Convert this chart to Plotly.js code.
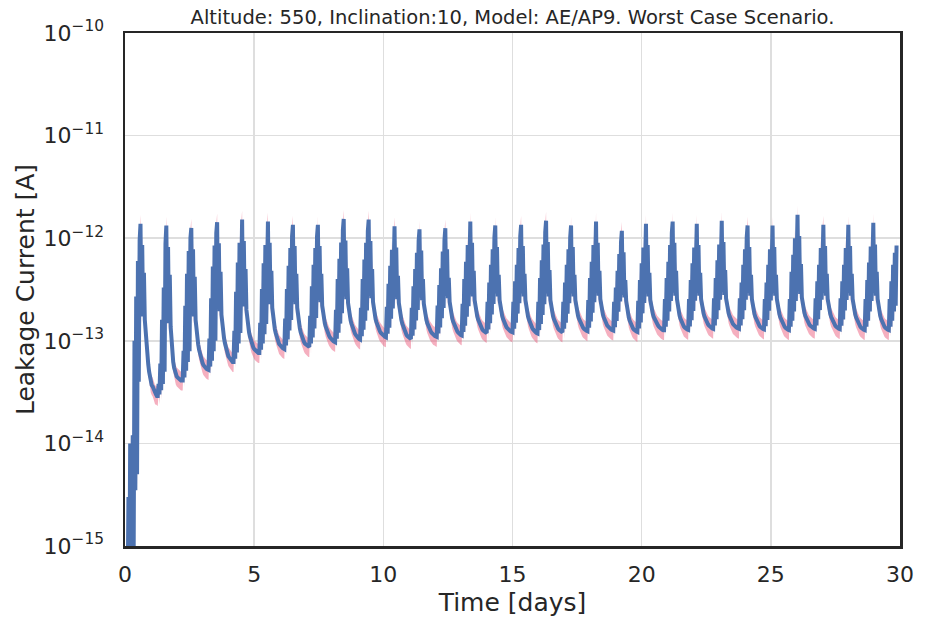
<!DOCTYPE html>
<html>
<head>
<meta charset="utf-8">
<script src="https://cdn.plot.ly/plotly-3.0.1.min.js"></script>
<style>
  html, body { margin: 0; padding: 0; background: #fff; }
  #plot { width: 936px; height: 618px; }
</style>
</head>
<body>
<div id="plot"></div>
<script>
// leakage current, in units of 1e-13 A, one sample every 1/30 day (48 min)
var sampleStepDays = 1 / 30;
var leakE13 = [
    // start of mission
    0.001, 0.001, 0.002, 0.003, 0.03, 0.003, 0.1, 0.004, 0.005, 0.12, 0.006, 1.0, 0.035, 2.7, 0.05, 6.0, 0.4, 9.5,
    // pass 1
    13.8, 1.85, 8.6, 1.73, 4.6, 1.6, 1.14, 0.88, 0.71, 0.59, 0.5, 0.43, 0.39, 0.37, 0.36, 0.34, 0.32, 0.3, 0.3, 0.29, 0.29,
    // pass 2
    0.38, 0.3, 0.6, 0.33, 1.6, 0.38, 3.3, 0.5, 8.8, 13.3, 1.58, 8.2, 1.48, 4.4, 1.37, 0.9, 0.72, 0.62, 0.55, 0.5, 0.47, 0.45, 0.44, 0.43, 0.42, 0.42, 0.41, 0.41, 0.41,
    // pass 3
    0.8, 0.44, 2.2, 0.51, 4.5, 0.62, 7.5, 0.79, 10.0, 12.6, 1.84, 7.8, 1.73, 4.2, 1.6, 1.25, 1.06, 0.92, 0.82, 0.75, 0.68, 0.64, 0.61, 0.58, 0.56, 0.55, 0.54, 0.53, 0.52, 0.52,
    // pass 4
    1.05, 0.56, 2.6, 0.64, 5.3, 0.79, 8.5, 1.0, 11.2, 14.3, 2.07, 8.9, 1.94, 4.7, 1.8, 1.42, 1.21, 1.06, 0.95, 0.87, 0.8, 0.75, 0.71, 0.69, 0.67, 0.65, 0.63, 0.62, 0.62,
    // pass 5
    1.25, 0.67, 3.0, 0.77, 5.8, 0.94, 9.0, 1.19, 11.8, 15.2, 2.3, 9.4, 2.16, 5.0, 2.0, 1.6, 1.38, 1.22, 1.11, 1.02, 0.95, 0.9, 0.86, 0.83, 0.81, 0.79, 0.78, 0.77, 0.76, 0.76,
    // pass 6
    1.5, 0.82, 3.2, 0.94, 5.7, 1.16, 8.6, 1.46, 11.2, 14.5, 2.4, 9.0, 2.27, 4.8, 2.1, 1.69, 1.47, 1.3, 1.19, 1.1, 1.02, 0.97, 0.93, 0.91, 0.88, 0.86, 0.85, 0.84, 0.83,
    // pass 7
    1.65, 0.9, 3.2, 1.03, 5.4, 1.26, 8.0, 1.6, 10.4, 13.5, 2.4, 8.4, 2.27, 4.5, 2.1, 1.71, 1.49, 1.33, 1.21, 1.13, 1.05, 1.01, 0.97, 0.94, 0.92, 0.9, 0.88, 0.87, 0.87,
    // pass 8
    1.75, 0.94, 3.4, 1.08, 5.5, 1.32, 8.0, 1.67, 10.4, 13.5, 2.5, 8.4, 2.38, 4.5, 2.2, 1.86, 1.63, 1.49, 1.38, 1.29, 1.22, 1.17, 1.12, 1.08, 1.05, 1.03, 1.01, 0.99, 0.98, 0.97,
    // pass 9
    2.0, 1.05, 4.0, 1.2, 6.3, 1.47, 9.1, 1.86, 11.9, 15.4, 2.7, 9.5, 2.54, 5.1, 2.35, 1.98, 1.74, 1.58, 1.47, 1.37, 1.29, 1.23, 1.18, 1.14, 1.1, 1.08, 1.06, 1.04, 1.03,
    // pass 10
    2.1, 1.11, 4.0, 1.28, 6.2, 1.57, 9.0, 1.98, 11.7, 15.2, 2.75, 9.4, 2.6, 5.0, 2.4, 2.03, 1.79, 1.63, 1.52, 1.42, 1.34, 1.29, 1.24, 1.2, 1.17, 1.14, 1.12, 1.1, 1.09, 1.08,
    // pass 11
    2.15, 1.17, 3.6, 1.34, 5.4, 1.64, 7.7, 2.07, 10.1, 13.1, 2.7, 8.1, 2.54, 4.3, 2.35, 1.98, 1.75, 1.59, 1.47, 1.38, 1.3, 1.24, 1.18, 1.14, 1.11, 1.09, 1.07, 1.05, 1.04,
    // pass 12
    2.1, 1.12, 3.4, 1.29, 5.0, 1.58, 7.2, 2.0, 9.4, 12.2, 2.65, 7.6, 2.48, 4.0, 2.3, 1.96, 1.74, 1.6, 1.49, 1.4, 1.33, 1.28, 1.24, 1.2, 1.17, 1.14, 1.13, 1.11, 1.1, 1.09,
    // pass 13
    2.2, 1.18, 3.5, 1.35, 5.1, 1.66, 7.4, 2.09, 9.6, 12.5, 2.75, 7.8, 2.6, 4.1, 2.4, 2.04, 1.82, 1.66, 1.55, 1.46, 1.38, 1.32, 1.27, 1.23, 1.2, 1.17, 1.16, 1.14, 1.13,
    // pass 14
    2.3, 1.22, 4.0, 1.4, 5.9, 1.72, 8.6, 2.17, 11.2, 14.5, 2.9, 9.0, 2.7, 4.8, 2.5, 2.13, 1.9, 1.74, 1.62, 1.53, 1.45, 1.39, 1.33, 1.29, 1.26, 1.24, 1.22, 1.2, 1.19,
    // pass 15
    2.4, 1.29, 3.7, 1.48, 5.5, 1.81, 7.8, 2.28, 10.2, 13.3, 2.9, 8.2, 2.7, 4.4, 2.5, 2.14, 1.91, 1.75, 1.64, 1.55, 1.47, 1.42, 1.36, 1.33, 1.29, 1.27, 1.25, 1.23, 1.22, 1.21,
    // pass 16
    2.4, 1.31, 3.8, 1.5, 5.5, 1.84, 8.0, 2.32, 10.4, 13.5, 2.9, 8.4, 2.7, 4.5, 2.5, 2.13, 1.89, 1.73, 1.62, 1.52, 1.44, 1.38, 1.33, 1.29, 1.25, 1.23, 1.21, 1.19, 1.18,
    // pass 17
    2.4, 1.27, 4.1, 1.46, 6.1, 1.79, 8.7, 2.27, 11.4, 14.8, 2.9, 9.2, 2.7, 4.9, 2.5, 2.14, 1.91, 1.75, 1.64, 1.55, 1.47, 1.4, 1.35, 1.31, 1.28, 1.26, 1.24, 1.22, 1.21,
    // pass 18
    2.4, 1.31, 3.7, 1.5, 5.5, 1.84, 7.8, 2.32, 10.2, 13.3, 2.9, 8.2, 2.7, 4.4, 2.5, 2.15, 1.92, 1.77, 1.66, 1.57, 1.49, 1.43, 1.38, 1.34, 1.31, 1.28, 1.27, 1.25, 1.24,
    // pass 19
    2.5, 1.34, 4.1, 1.54, 5.9, 1.88, 8.6, 2.38, 11.2, 14.5, 2.95, 9.0, 2.75, 4.8, 2.55, 2.19, 1.96, 1.8, 1.69, 1.6, 1.52, 1.47, 1.41, 1.38, 1.34, 1.32, 1.3, 1.28, 1.27, 1.26,
    // pass 20
    2.4, 1.36, 3.3, 1.56, 4.8, 1.92, 7.0, 2.42, 9.1, 11.8, 2.8, 7.3, 2.65, 3.9, 2.45, 2.08, 1.84, 1.69, 1.58, 1.49, 1.42, 1.37, 1.32, 1.29, 1.26, 1.24, 1.23, 1.22,
    // pass 21
    2.45, 1.32, 3.9, 1.51, 5.7, 1.85, 8.1, 2.34, 10.6, 13.8, 2.9, 8.6, 2.7, 4.6, 2.5, 2.18, 1.97, 1.82, 1.71, 1.63, 1.55, 1.49, 1.44, 1.41, 1.37, 1.34, 1.32, 1.3, 1.28, 1.27, 1.27,
    // pass 22
    2.55, 1.37, 4.1, 1.57, 5.9, 1.93, 8.6, 2.44, 11.2, 14.5, 2.95, 9.0, 2.75, 4.8, 2.55, 2.17, 1.92, 1.76, 1.65, 1.56, 1.48, 1.43, 1.38, 1.35, 1.32, 1.31, 1.29, 1.28,
    // pass 23
    2.55, 1.38, 3.9, 1.59, 5.7, 1.95, 8.1, 2.46, 10.6, 13.8, 2.95, 8.6, 2.75, 4.6, 2.55, 2.2, 1.98, 1.83, 1.72, 1.63, 1.56, 1.5, 1.45, 1.41, 1.38, 1.35, 1.33, 1.32, 1.31,
    // pass 24
    2.6, 1.41, 4.1, 1.62, 6.1, 1.99, 8.7, 2.52, 11.4, 14.8, 3.0, 9.2, 2.8, 4.9, 2.6, 2.24, 2.01, 1.85, 1.74, 1.65, 1.57, 1.52, 1.46, 1.43, 1.39, 1.37, 1.35, 1.33, 1.32, 1.31,
    // pass 25
    2.6, 1.41, 3.7, 1.62, 5.5, 1.99, 7.8, 2.52, 10.2, 13.3, 2.95, 8.2, 2.75, 4.4, 2.55, 2.2, 1.97, 1.82, 1.71, 1.62, 1.54, 1.48, 1.43, 1.39, 1.36, 1.33, 1.32, 1.3, 1.29,
    // pass 26
    2.55, 1.39, 3.7, 1.6, 5.5, 1.96, 7.8, 2.48, 10.2, 13.3, 2.95, 8.2, 2.75, 4.4, 2.55, 2.19, 1.96, 1.81, 1.69, 1.6, 1.53, 1.46, 1.41, 1.37, 1.34, 1.31, 1.3, 1.28, 1.27,
    // pass 27
    2.55, 1.37, 4.7, 1.57, 6.9, 1.93, 10.0, 2.44, 13.0, 16.9, 3.05, 10.5, 2.86, 5.6, 2.65, 2.27, 2.03, 1.87, 1.75, 1.66, 1.58, 1.52, 1.47, 1.43, 1.4, 1.37, 1.35, 1.33, 1.32, 1.31,
    // pass 28
    2.6, 1.41, 3.8, 1.62, 5.5, 1.99, 8.0, 2.52, 10.4, 13.5, 2.95, 8.4, 2.75, 4.5, 2.55, 2.2, 1.98, 1.83, 1.71, 1.63, 1.55, 1.49, 1.44, 1.4, 1.37, 1.34, 1.33, 1.31, 1.3,
    // pass 29
    2.6, 1.4, 3.8, 1.61, 5.5, 1.98, 8.0, 2.5, 10.4, 13.5, 2.95, 8.4, 2.75, 4.5, 2.55, 2.19, 1.96, 1.81, 1.69, 1.6, 1.53, 1.46, 1.41, 1.37, 1.34, 1.31, 1.3, 1.28, 1.27,
    // pass 30
    2.55, 1.37, 3.9, 1.57, 5.8, 1.93, 8.3, 2.44, 10.9, 14.1, 2.95, 8.7, 2.75, 4.7, 2.55, 2.17, 1.91, 1.76, 1.64, 1.55, 1.47, 1.42, 1.37, 1.34, 1.31, 1.3, 1.28, 1.27,
    // pass 31 (cut at end of run)
    2.55, 1.37, 3.8, 1.57, 5.5, 1.93, 7.2, 2.2, 8.5
];

// spread of the worst case runs (pink band), relative to the mean curve
var bandLow = 0.8;
var bandHigh = 1.22;

var xTicks = [0, 5, 10, 15, 20, 25, 30];
var yTicks = [1e-15, 1e-14, 1e-13, 1e-12, 1e-11, 1e-10];
var yTickText = ['10<sup>\u221215</sup>', '10<sup>\u221214</sup>', '10<sup>\u221213</sup>',
                 '10<sup>\u221212</sup>', '10<sup>\u221211</sup>', '10<sup>\u221210</sup>'];

var timeDays = leakE13.map(function(v, i){ return i * sampleStepDays; });
var current = leakE13.map(function(v){ return v * 1e-13; });
var upper = current.map(function(v){ return v * bandHigh; });
var lower = current.map(function(v){ return v * bandLow; });

var textColor = '#262626';
var font = 'DejaVu Sans, sans-serif';

var axisStyle = {
    showline: true,
    linecolor: textColor,
    linewidth: 2.5,
    mirror: true,
    showgrid: true,
    gridcolor: '#dedede',
    gridwidth: 1.5,
    zeroline: false,
    ticks: '',
    tickfont: {family: font, size: 22, color: textColor}
};

var traces = [
    {
        x: timeDays, y: upper,
        type: 'scatter', mode: 'lines',
        line: {width: 0, color: 'rgba(0,0,0,0)'},
        hoverinfo: 'skip', showlegend: false
    },
    {
        x: timeDays, y: lower,
        type: 'scatter', mode: 'lines',
        line: {width: 0, color: 'rgba(0,0,0,0)'},
        fill: 'tonexty', fillcolor: 'rgba(236,95,128,0.5)',
        hoverinfo: 'skip', showlegend: false
    },
    {
        x: timeDays, y: current,
        type: 'scatter', mode: 'lines',
        line: {width: 4, color: '#4c72b0'},
        showlegend: false
    }
];

var layout = {
    width: 936,
    height: 618,
    margin: {l: 125, r: 36, t: 33, b: 72},
    paper_bgcolor: '#fff',
    plot_bgcolor: '#fff',
    font: {family: font, color: textColor},
    showlegend: false,
    title: {
        text: 'Altitude: 550, Inclination:10, Model: AE/AP9. Worst Case Scenario.',
        font: {family: font, size: 19.5, color: textColor},
        x: 0.5, xref: 'paper',
        y: 1 - 17 / 618, yref: 'container', yanchor: 'middle'
    },
    xaxis: Object.assign({}, axisStyle, {
        range: [0, 30],
        tickmode: 'array',
        tickvals: xTicks,
        ticklabelstandoff: 7,
        title: {text: 'Time [days]', font: {family: font, size: 25, color: textColor}, standoff: 8}
    }),
    yaxis: Object.assign({}, axisStyle, {
        type: 'log',
        range: [-15, -10],
        tickmode: 'array',
        tickvals: yTicks,
        ticktext: yTickText,
        ticklabelstandoff: 14,
        title: {text: 'Leakage Current [A]', font: {family: font, size: 25, color: textColor}, standoff: 2}
    })
};

Plotly.newPlot('plot', traces, layout, {staticPlot: true});
</script>
</body>
</html>
